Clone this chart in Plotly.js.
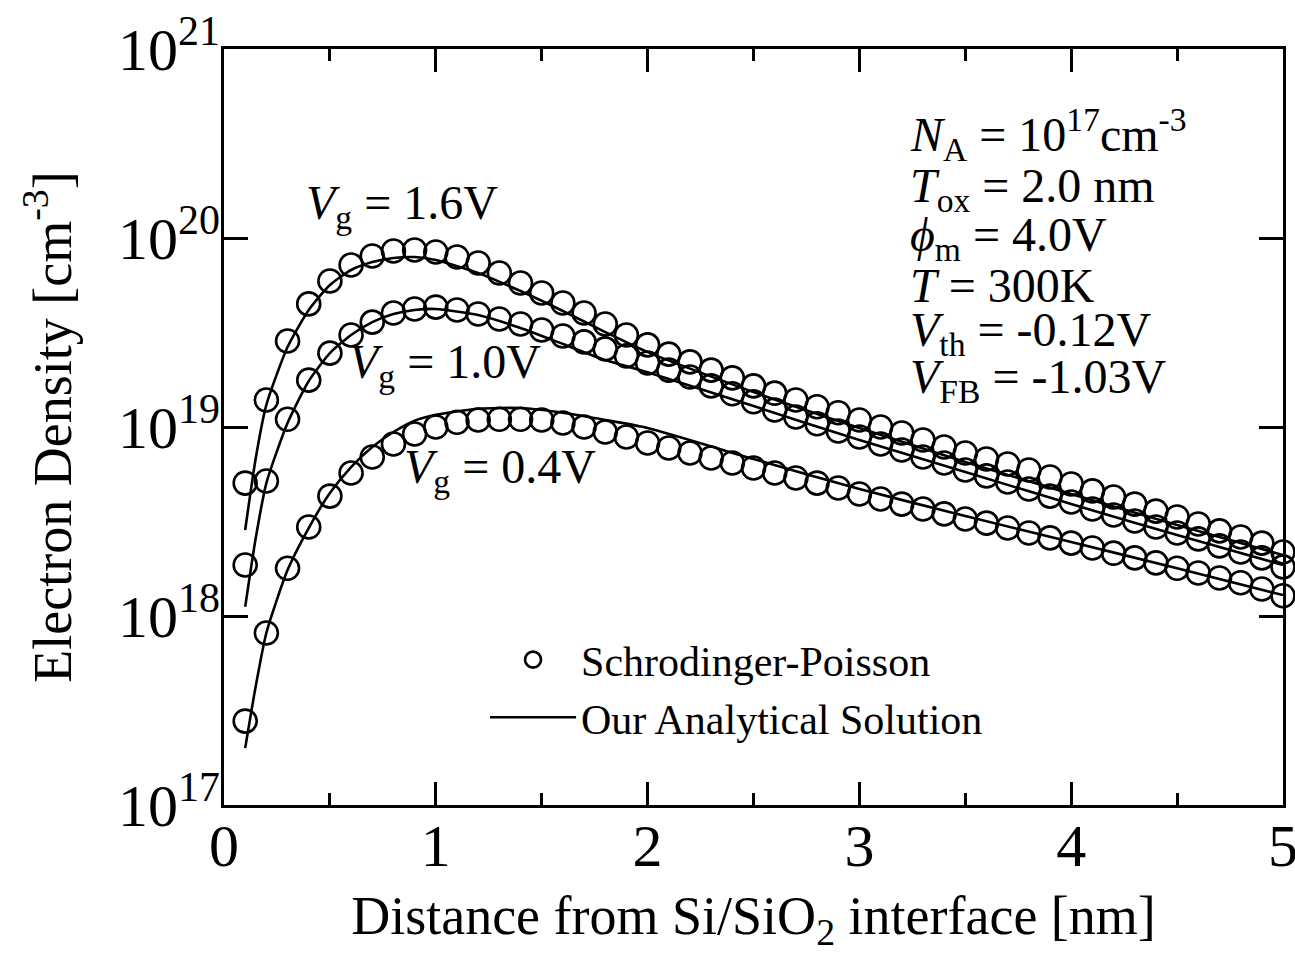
<!DOCTYPE html>
<html>
<head>
<meta charset="utf-8">
<script src="https://cdn.plot.ly/plotly-3.0.1.min.js"></script>
<style>
html,body{margin:0;padding:0;background:#fff;}
#chart{width:1295px;height:953px;}
</style>
</head>
<body>
<div id="chart"></div>
<script>
// Distance from Si/SiO2 interface [nm] for Schrodinger-Poisson points
const distance = [0.1,0.2,0.3,0.4,0.5,0.6,0.7,0.8,0.9,1.0,
                  1.1,1.2,1.3,1.4,1.5,1.6,1.7,1.8,1.9,2.0,
                  2.1,2.2,2.3,2.4,2.5,2.6,2.7,2.8,2.9,3.0,
                  3.1,3.2,3.3,3.4,3.5,3.6,3.7,3.8,3.9,4.0,
                  4.1,4.2,4.3,4.4,4.5,4.6,4.7,4.8,4.9,5.0];

// Schrodinger-Poisson electron density [cm^-3]
const sp_Vg16 = [5.05e18,1.39e19,2.85e19,4.48e19,5.92e19,7.20e19,8.03e19,8.53e19,8.64e19,8.43e19,
                 7.93e19,7.37e19,6.53e19,5.78e19,5.12e19,4.53e19,4.01e19,3.51e19,3.07e19,2.72e19,
                 2.43e19,2.21e19,2.00e19,1.82e19,1.65e19,1.51e19,1.39e19,1.28e19,1.19e19,1.09e19,
                 1.00e19,9.30e18,8.53e18,7.84e18,7.28e18,6.77e18,6.37e18,5.92e18,5.44e18,4.99e18,
                 4.59e18,4.26e18,3.91e18,3.59e18,3.34e18,3.07e18,2.82e18,2.62e18,2.43e18,2.18e18];
const sp_Vg10 = [1.86e18,5.18e18,1.10e19,1.77e19,2.46e19,3.07e19,3.59e19,4.01e19,4.21e19,4.31e19,
                 4.16e19,3.96e19,3.73e19,3.51e19,3.26e19,3.03e19,2.82e19,2.59e19,2.38e19,2.18e19,
                 2.00e19,1.84e19,1.65e19,1.50e19,1.36e19,1.23e19,1.13e19,1.04e19,9.52e18,8.85e18,
                 8.13e18,7.56e18,6.94e18,6.45e18,5.92e18,5.51e18,5.12e18,4.70e18,4.31e18,4.01e18,
                 3.68e18,3.42e18,3.18e18,2.96e18,2.75e18,2.56e18,2.35e18,2.18e18,2.03e18,1.82e18];
const sp_Vg04 = [2.78e17,8.13e17,1.79e18,2.96e18,4.31e18,5.71e18,6.94e18,8.13e18,9.18e18,1.00e19,
                 1.06e19,1.09e19,1.10e19,1.10e19,1.09e19,1.05e19,1.00e19,9.41e18,8.85e18,8.23e18,
                 7.74e18,7.28e18,6.86e18,6.45e18,6.07e18,5.71e18,5.37e18,5.05e18,4.76e18,4.42e18,
                 4.16e18,3.91e18,3.68e18,3.47e18,3.26e18,3.10e18,2.92e18,2.75e18,2.59e18,2.43e18,
                 2.29e18,2.15e18,2.03e18,1.91e18,1.79e18,1.69e18,1.59e18,1.50e18,1.39e18,1.28e18];

// Analytical solution curves
const distanceModel = [0.1,0.15,0.2,0.3,0.4,0.5,0.6,0.7,0.8,0.9,1.0,1.2,1.4,1.6,1.8,2.0,2.5,3.0,3.5,4.0,4.5,5.0];
const model_Vg16 = [2.85e18,6.86e18,1.31e19,2.65e19,4.16e19,5.64e19,6.77e19,7.46e19,7.84e19,7.93e19,7.65e19,
                    6.53e19,5.24e19,4.11e19,3.18e19,2.49e19,1.53e19,9.88e18,6.53e18,4.42e18,3.03e18,2.10e18];
const model_Vg10 = [1.12e18,2.59e18,5.05e18,1.05e19,1.75e19,2.46e19,3.07e19,3.59e19,3.96e19,4.16e19,4.21e19,
                    3.91e19,3.34e19,2.75e19,2.26e19,1.95e19,1.29e19,8.53e18,5.78e18,3.91e18,2.68e18,1.86e18];
const model_Vg04 = [2.00e17,4.26e17,8.13e17,1.75e18,2.92e18,4.48e18,6.14e18,7.84e18,9.41e18,1.08e19,1.16e19,
                    1.25e19,1.26e19,1.19e19,1.09e19,9.88e18,6.77e18,4.70e18,3.38e18,2.46e18,1.79e18,1.29e18];

const yTickVals = [1e17,1e18,1e19,1e20,1e21];
const yTickText = ['10<sup>17</sup>','10<sup>18</sup>','10<sup>19</sup>','10<sup>20</sup>','10<sup>21</sup>'];
const xTickVals = [0,1,2,3,4,5];
const xTickText = ['0','1','2','3','4','5'];

const seriesLabels = ['Schrodinger-Poisson','Our Analytical Solution'];
const curveLabels = ['<i>V</i><sub>g</sub> = 1.6V','<i>V</i><sub>g</sub> = 1.0V','<i>V</i><sub>g</sub> = 0.4V'];
const paramLines = ['<i>N</i><sub>A</sub> = 10<sup>17</sup>cm<sup>-3</sup>',
                    '<i>T</i><sub>ox</sub> = 2.0 nm',
                    '<i>ϕ</i><sub>m</sub> = 4.0V',
                    '<i>T</i> = 300K',
                    '<i>V</i><sub>th</sub> = -0.12V',
                    '<i>V</i><sub>FB</sub> = -1.03V'];

const FONT = 'Liberation Serif, Times New Roman, serif';
const markerStyle = {symbol:'circle-open', size:23, color:'#000', line:{color:'#000', width:2.6}};
const lineStyle = {color:'#000', width:2.6, shape:'spline', smoothing:0.6};

const spSets = [sp_Vg16, sp_Vg10, sp_Vg04];
const modelSets = [model_Vg16, model_Vg10, model_Vg04];
const traces = [];
modelSets.forEach((m,i)=>{
  traces.push({x:distanceModel, y:m, mode:'lines', type:'scatter', line:lineStyle,
    name:seriesLabels[1], showlegend:i===0, legendrank:2, hoverinfo:'skip'});
});
spSets.forEach((s,i)=>{
  traces.push({x:distance, y:s, mode:'markers', type:'scatter', marker:markerStyle,
    name:seriesLabels[0], showlegend:i===0, legendrank:1, cliponaxis:false});
});

const annotations = [];
const curveLabelPos = [[0.38,20.17],[0.58,19.33],[0.84,18.77]];
curveLabels.forEach((t,i)=>{
  annotations.push({text:t, x:curveLabelPos[i][0], y:curveLabelPos[i][1], xref:'x', yref:'y',
    xanchor:'left', yanchor:'middle', showarrow:false, font:{family:FONT, size:48, color:'#000'}});
});
const paramY = [20.55,20.26,20.0,19.75,19.50,19.25];
paramLines.forEach((t,i)=>{
  annotations.push({text:t, x:3.23, y:paramY[i], xref:'x', yref:'y',
    xanchor:'left', yanchor:'middle', showarrow:false, font:{family:FONT, size:48, color:'#000'}});
});

const layout = {
  width:1295, height:953,
  margin:{l:224, r:12, t:49, b:148},
  paper_bgcolor:'#fff', plot_bgcolor:'#fff',
  font:{family:FONT, color:'#000'},
  showlegend:true,
  legend:{x:0.2465, y:0.237, xanchor:'left', yanchor:'top', bgcolor:'rgba(0,0,0,0)',
    font:{family:FONT, size:42, color:'#000'}, itemwidth:86, tracegroupgap:0, traceorder:'normal'},
  xaxis:{range:[0,5], tickvals:xTickVals, ticktext:xTickText, ticks:'inside', ticklen:23, tickwidth:3,
    tickcolor:'#000', showline:true, linewidth:3, linecolor:'#000', mirror:'ticks', showgrid:false, zeroline:false,
    ticklabeloverflow:'allow', ticklabelstandoff:-14,
    tickfont:{family:FONT, size:60, color:'#000'},
    minor:{tickvals:[0.5,1.5,2.5,3.5,4.5], ticks:'inside', ticklen:12, tickwidth:3, tickcolor:'#000', showgrid:false},
    title:{text:'Distance from Si/SiO<sub>2</sub> interface [nm]', font:{family:FONT, size:54, color:'#000'}, standoff:50}},
  yaxis:{type:'log', range:[17,21], tickvals:yTickVals, ticktext:yTickText, ticks:'inside', ticklen:24, tickwidth:3,
    tickcolor:'#000', showline:true, linewidth:3, linecolor:'#000', mirror:'ticks', showgrid:false, zeroline:false,
    ticklabelstandoff:-11,
    tickfont:{family:FONT, size:60, color:'#000'},
    title:{text:'Electron Density [cm<sup>-3</sup>]', font:{family:FONT, size:54, color:'#000'}, standoff:30}},
  annotations:annotations
};

Plotly.newPlot('chart', traces, layout, {staticPlot:true, displayModeBar:false});
</script>
</body>
</html>
